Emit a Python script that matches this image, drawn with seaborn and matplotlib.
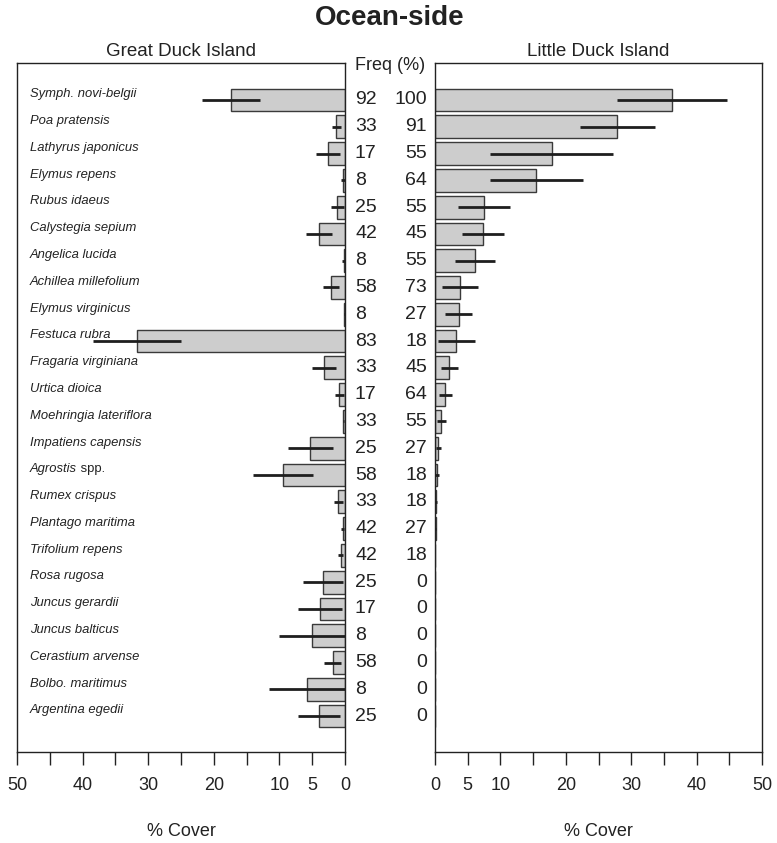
import matplotlib
matplotlib.use("Agg")
import matplotlib.pyplot as plt
import matplotlib.transforms as mtrans
import seaborn as sns
import numpy as np
import pandas as pd

species = ["Symph. novi-belgii", "Poa pratensis", "Lathyrus japonicus", "Elymus repens",
           "Rubus idaeus", "Calystegia sepium", "Angelica lucida", "Achillea millefolium",
           "Elymus virginicus", "Festuca rubra", "Fragaria virginiana", "Urtica dioica",
           "Moehringia lateriflora", "Impatiens capensis", "Agrostis", "Rumex crispus",
           "Plantago maritima", "Trifolium repens", "Rosa rugosa", "Juncus gerardii",
           "Juncus balticus", "Cerastium arvense", "Bolbo. maritimus", "Argentina egedii"]

great_cover = [17.4, 1.3, 2.6, 0.3, 1.15, 4.0, 0.2, 2.1, 0.1, 31.7, 3.2, 0.9,
               0.25, 5.3, 9.45, 1.0, 0.35, 0.65, 3.3, 3.8, 5.0, 1.9, 5.8, 4.0]
great_err = [4.4, 0.75, 1.85, 0.35, 0.95, 1.95, 0.2, 1.2, 0.05, 6.7, 1.9, 0.7,
             0.1, 3.45, 4.6, 0.65, 0.2, 0.35, 3.05, 3.4, 5.1, 1.25, 5.85, 3.2]
little_cover = [36.3, 27.9, 17.85, 15.5, 7.45, 7.3, 6.05, 3.8, 3.6, 3.24, 2.2, 1.6,
                0.95, 0.5, 0.3, 0.2, 0.1, 0.03, 0, 0, 0, 0, 0, 0]
little_err = [8.4, 5.75, 9.4, 7.1, 3.95, 3.2, 3.05, 2.7, 2.0, 2.8, 1.3, 0.95,
              0.7, 0.35, 0.3, 0.15, 0.1, 0.02, 0, 0, 0, 0, 0, 0]
great_freq = [92, 33, 17, 8, 25, 42, 8, 58, 8, 83, 33, 17, 33, 25, 58, 33, 42, 42,
              25, 17, 8, 58, 8, 25]
little_freq = [100, 91, 55, 64, 55, 45, 55, 73, 27, 18, 45, 64, 55, 27, 18, 18, 27, 18,
               0, 0, 0, 0, 0, 0]
x_ticks = [0, 5, 10, 15, 20, 25, 30, 35, 40, 45, 50]
x_ticklabels = ["0", "5", "10", "", "20", "", "30", "", "40", "", "50"]

sns.set_theme(style="white")
narrow = ["Liberation Sans Narrow", "Liberation Sans", "DejaVu Sans"]
plt.rcParams["font.family"] = narrow

W, H = 777, 843
fig = plt.figure(figsize=(W / 100, H / 100), dpi=100)
fig.patch.set_facecolor("white")

def fx(px):
    return px / W

def fy(py):
    return 1 - py / H

top, bottom = 63, 752
axL = fig.add_axes([fx(17), fy(bottom), fx(345) - fx(17), fy(top) - fy(bottom)])
axR = fig.add_axes([fx(435), fy(bottom), fx(762) - fx(435), fy(top) - fy(bottom)])

dfL = pd.DataFrame({"species": species, "cover": great_cover, "err": great_err})
dfR = pd.DataFrame({"species": species, "cover": little_cover, "err": little_err})

bar_fill = "#cdcdcd"
bar_edge = "#3a3a3a"
err_col = "#1e1e1e"

for ax, df in ((axL, dfL), (axR, dfR)):
    sns.barplot(data=df, x="cover", y="species", orient="h", ax=ax, color=bar_fill,
                edgecolor=bar_edge, linewidth=1.0, width=0.85, saturation=1,
                errorbar=None, order=species)
    pos = np.arange(len(species))
    ax.errorbar(df["cover"], pos, xerr=df["err"], fmt="none", ecolor=err_col,
                elinewidth=2.0, capsize=0, zorder=5)
    ax.set_ylim(24.34, -1.38)
    ax.set_xticks(x_ticks)
    ax.set_xticklabels(x_ticklabels)
    ax.set_yticks([])
    ax.set_ylabel("")
    ax.set_xlabel("% Cover", fontsize=13, color="#222222")
    ax.xaxis.set_label_coords(0.5, (752 - 831) / 689)
    ax.xaxis.label.set_va("center")
    ax.tick_params(axis="x", direction="out", length=9, width=1, colors="#222222",
                   labelsize=13, pad=9, bottom=True)
    for s in ax.spines.values():
        s.set_visible(True)
        s.set_color("#222222")
        s.set_linewidth(1.0)
    ax.set_facecolor("white")

axL.set_xlim(50, 0)
axR.set_xlim(0, 50)

# species labels
tL = mtrans.blended_transform_factory(axL.transAxes, axL.transData)
for i, name in enumerate(species):
    t = axL.text(0.04, i - 0.1, name, transform=tL, ha="left", va="baseline",
                 fontsize=9.4, style="italic", family=["Liberation Sans", "DejaVu Sans"],
                 color="#222222", zorder=6)
    if name == "Agrostis":
        axL.annotate(" spp.", xy=(1, 0), xycoords=t, ha="left", va="bottom",
                     fontsize=9.4, family=["Liberation Sans", "DejaVu Sans"], color="#222222")

# frequency columns
tF = mtrans.blended_transform_factory(fig.transFigure, axL.transData)
for i in range(len(species)):
    axL.text(fx(355), i, str(great_freq[i]), transform=tF, ha="left", va="center",
             fontsize=14, family=["Liberation Sans", "DejaVu Sans"], color="#222222",
             clip_on=False)
    axL.text(fx(427), i, str(little_freq[i]), transform=tF, ha="right", va="center",
             fontsize=14, family=["Liberation Sans", "DejaVu Sans"], color="#222222",
             clip_on=False)

fig.text(fx(390), fy(66), "Freq (%)", ha="center", va="center", fontsize=13,
         color="#222222")
fig.text(fx(181), fy(52), "Great Duck Island", ha="center", va="center", fontsize=13.5,
         color="#222222")
fig.text(fx(598), fy(52), "Little Duck Island", ha="center", va="center", fontsize=13.5,
         color="#222222")
fig.text(fx(390), fy(18), "Ocean-side", ha="center", va="center", fontsize=20,
         weight="bold", color="#222222", family=["Liberation Sans", "DejaVu Sans"])

fig.savefig("out.png", dpi=100, facecolor="white")
